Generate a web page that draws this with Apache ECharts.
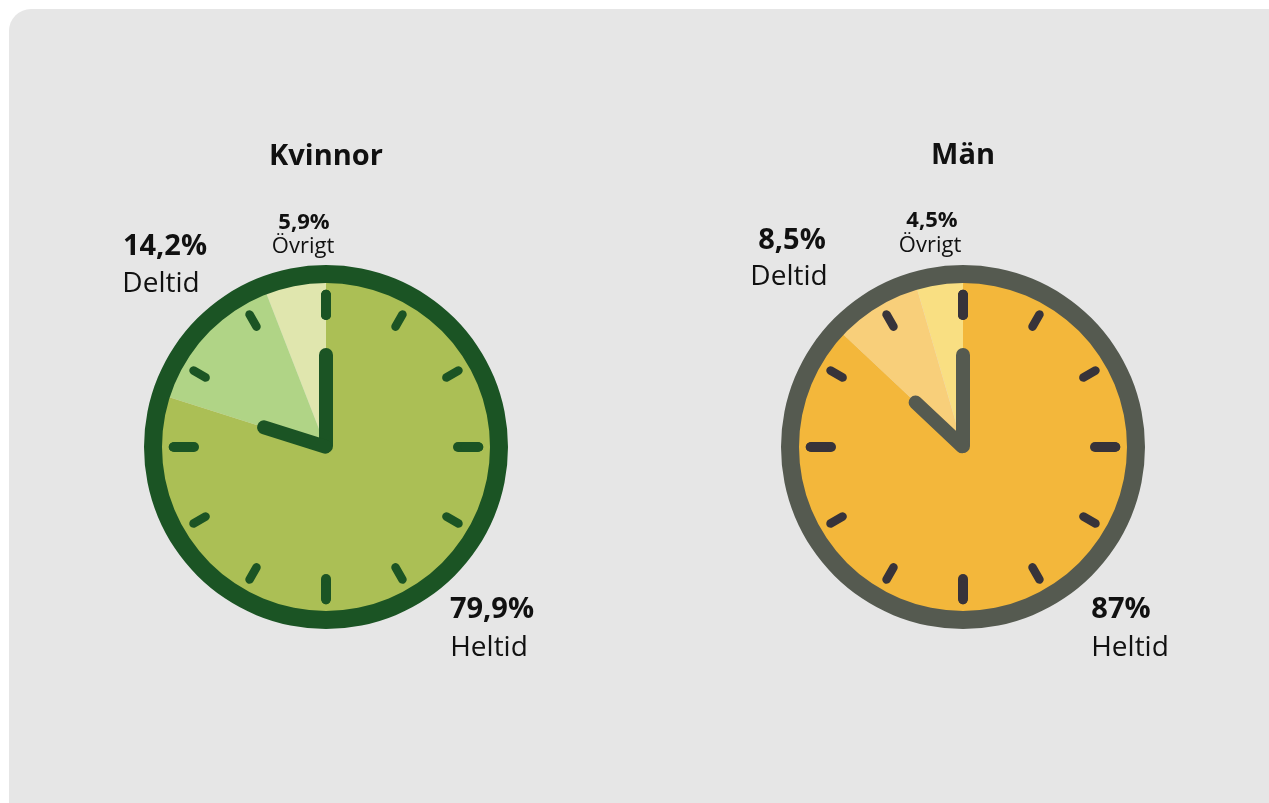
<!DOCTYPE html>
<html>
<head>
<meta charset="utf-8">
<script src="https://cdn.jsdelivr.net/npm/echarts@6/dist/echarts.min.js"></script>
<style>
    html, body {
        margin: 0;
        padding: 0;
        background: #ffffff;
        overflow: hidden;
    }
    .panel {
        position: absolute;
        left: 9px;
        top: 9px;
        width: 1290px;
        height: 820px;
        border-radius: 22px;
        background: #e6e6e6;
    }
    #chart {
        position: absolute;
        left: 0;
        top: 0;
        width: 1269px;
        height: 803px;
    }
</style>
</head>
<body>
<div class="panel"></div>
<div id="chart"></div>
<script>
// data
const groups = ['Kvinnor', 'Män'];
const categories = ['Övrigt', 'Deltid', 'Heltid'];
const kvinnor = [5.9, 14.2, 79.9];
const man = [4.5, 8.5, 87];

// clock look per group
const themes = [
    { center: [326, 447], border: '#1b5424', tick: '#1b5424', hand: '#1b5424',
      colors: ['#e0e6ae', '#b0d486', '#abbf55'] },
    { center: [963, 447], border: '#555a50', tick: '#37333a', hand: '#555a50',
      colors: ['#f9df82', '#f8cf7a', '#f3b73b'] }
];

// where the texts go: title, [övrigt, deltid, heltid] pct + name
const textPos = [
    { title: [326, 157], pct: [[304, 223], [165, 247], [492, 610]], name: [[303, 247], [161, 284], [489, 648]] },
    { title: [963, 156], pct: [[932, 221], [792, 241], [1121, 610]], name: [[930, 246], [789, 277], [1130, 648]] }
];

function fmt(v) {
    return String(v).replace('.', ',') + '%';
}

// capsule shaped hand
function capsule(w, l) {
    const r = w / 2;
    return 'path://M0,' + r + ' A' + r + ',' + r + ' 0 0 1 ' + w + ',' + r +
        ' L' + w + ',' + (l - r) + ' A' + r + ',' + r + ' 0 0 1 0,' + (l - r) + ' Z';
}

const HAND_W = 14;

let mycharts = echarts.init(document.getElementById('chart'));
let series = [];
let graphics = [];

[kvinnor, man].forEach(function (vals, i) {
    const t = themes[i];
    series.push({
        type: 'pie',
        z: 1,
        center: t.center,
        radius: [0, 166],
        startAngle: 90,
        clockwise: false,
        silent: true,
        label: { show: false },
        labelLine: { show: false },
        data: categories.map(function (c, k) {
            return { name: c, value: vals[k], itemStyle: { color: t.colors[k] } };
        })
    });
    // dial, ticks and minute hand
    series.push({
        type: 'gauge',
        z: 5,
        center: t.center,
        radius: 182,
        startAngle: 90,
        endAngle: -270,
        min: 0,
        max: 100,
        splitNumber: 4,
        silent: true,
        axisLine: { lineStyle: { width: 18, color: [[1, t.border]] } },
        splitLine: { distance: 12, length: 20, lineStyle: { width: 10, color: t.tick, cap: 'round' } },
        axisTick: { splitNumber: 3, distance: 11, length: 14, lineStyle: { width: 8.5, color: t.tick, cap: 'round' } },
        axisLabel: { show: false },
        pointer: { icon: capsule(HAND_W, 105), width: HAND_W, length: 105, offsetCenter: [0, 6], itemStyle: { color: t.hand } },
        anchor: { show: false },
        title: { show: false },
        detail: { show: false },
        data: [{ value: 0 }]
    });
    // hour hand points at the heltid edge
    series.push({
        type: 'gauge',
        z: 6,
        center: t.center,
        radius: 182,
        startAngle: 90,
        endAngle: -270,
        min: 0,
        max: 100,
        silent: true,
        axisLine: { show: false },
        splitLine: { show: false },
        axisTick: { show: false },
        axisLabel: { show: false },
        pointer: { icon: capsule(HAND_W, 78), width: HAND_W, length: 78, offsetCenter: [0, 6], itemStyle: { color: t.hand } },
        anchor: { show: false },
        title: { show: false },
        detail: { show: false },
        data: [{ value: vals[2] }]
    });

    const p = textPos[i];
    graphics.push({
        type: 'text', x: p.title[0], y: p.title[1],
        style: { text: groups[i], font: 'bold 29px "Open Sans"', fill: '#111', align: 'center', verticalAlign: 'middle' }
    });
    categories.forEach(function (c, k) {
        const small = k === 0;
        graphics.push({
            type: 'text', x: p.pct[k][0], y: p.pct[k][1],
            style: { text: fmt(vals[k]), font: 'bold ' + (small ? 22 : 29) + 'px "Open Sans"', fill: '#111', align: 'center', verticalAlign: 'middle' }
        });
        graphics.push({
            type: 'text', x: p.name[k][0], y: p.name[k][1],
            style: { text: c, font: (small ? 22 : 28) + 'px "Open Sans"', fill: '#111', align: 'center', verticalAlign: 'middle' }
        });
    });
});

let option = {
    animation: false,
    backgroundColor: 'transparent',
    series: series,
    graphic: graphics
};
mycharts.setOption(option);
window.addEventListener('resize', function () {
    mycharts.resize();
});
</script>
</body>
</html>
